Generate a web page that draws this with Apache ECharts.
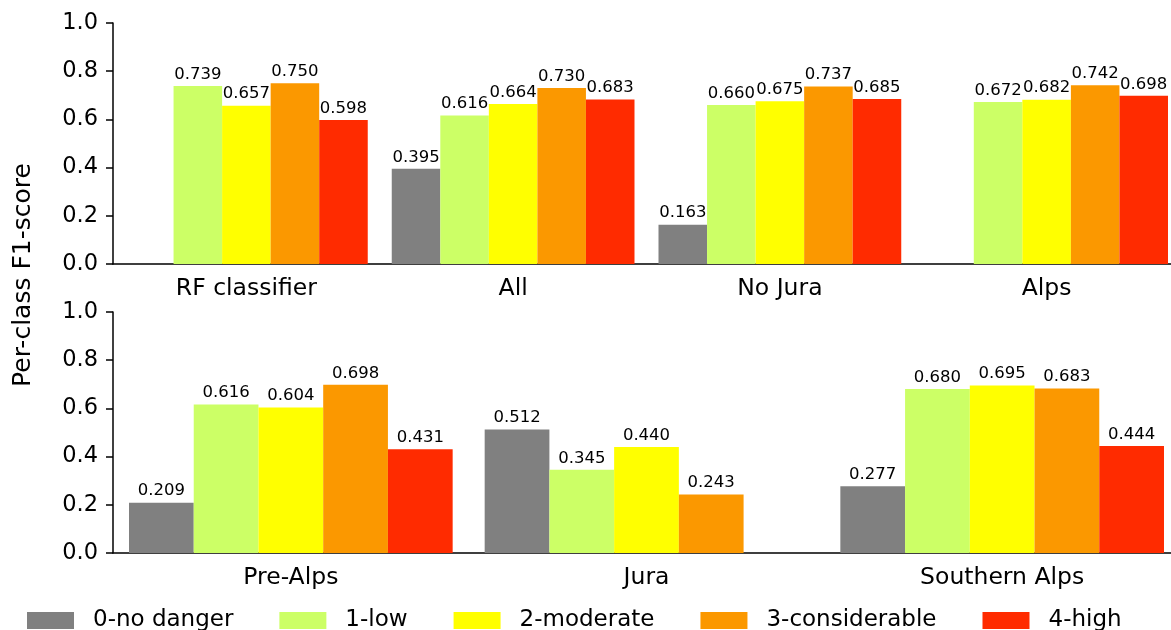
<!DOCTYPE html>
<html lang="en">
<head>
    <meta charset="UTF-8">
    <title>Per-class F1-score</title>
    <script src="https://cdn.jsdelivr.net/npm/echarts@6/dist/echarts.min.js"></script>
    <style>
        html, body { margin: 0; background: #fff; overflow: hidden; }
        /* the original figure is cropped on the right, so the canvas is a little wider than the window */
        #chart { width: 1180px; height: 630px; }
    </style>
</head>
<body>
<div id="chart"></div>
<script>
// class names / colours
const classNames = ['0-no danger', '1-low', '2-moderate', '3-considerable', '4-high'];
const classColors = ['#808080', '#ccff66', '#ffff00', '#fb9800', '#ff2b00'];

// top panel
const topCats = ['RF classifier', 'All', 'No Jura', 'Alps'];
const top0 = [null, 0.395, 0.163, null];
const top1 = [0.739, 0.616, 0.660, 0.672];
const top2 = [0.657, 0.664, 0.675, 0.682];
const top3 = [0.750, 0.730, 0.737, 0.742];
const top4 = [0.598, 0.683, 0.685, 0.698];

// bottom panel
const botCats = ['Pre-Alps', 'Jura', 'Southern Alps'];
const bot0 = [0.209, 0.512, 0.277];
const bot1 = [0.616, 0.345, 0.680];
const bot2 = [0.604, 0.440, 0.695];
const bot3 = [0.698, 0.243, 0.683];
const bot4 = [0.431, null, 0.444];

const yTicks = [0, 0.2, 0.4, 0.6, 0.8, 1.0];

const font = 'DejaVu Sans';
const axisColor = '#000';

function xAxisFor(idx, cats) {
    return {
        type: 'category', gridIndex: idx, data: cats,
        axisLine: { lineStyle: { color: axisColor, width: 1.5 } },
        axisTick: { alignWithLabel: true, length: 6, lineStyle: { color: axisColor, width: 1.5 } },
        axisLabel: { color: '#000', fontSize: 23.5, fontFamily: font, margin: 13 }
    };
}

function yAxisFor(idx) {
    return {
        type: 'value', gridIndex: idx, min: yTicks[0], max: yTicks[yTicks.length - 1], interval: 0.2,
        axisLine: { show: true, lineStyle: { color: axisColor, width: 1.5 } },
        axisTick: { show: true, length: 7, lineStyle: { color: axisColor, width: 1.5 } },
        splitLine: { show: false },
        axisLabel: { color: '#000', fontSize: 22.5, fontFamily: font, margin: 15,
            formatter: v => v.toFixed(1) }
    };
}

function barSeries(name, color, data, idx) {
    return {
        name: name, type: 'bar', data: data,
        xAxisIndex: idx, yAxisIndex: idx,
        barGap: '0%', barCategoryGap: '9%',
        itemStyle: { color: color },
        label: {
            show: true, position: 'top', distance: 3,
            color: '#000', fontSize: 16.5, fontFamily: font,
            formatter: p => p.value == null ? '' : p.value.toFixed(3)
        }
    };
}

const topData = [top0, top1, top2, top3, top4];
const botData = [bot0, bot1, bot2, bot3, bot4];
const series = [];
classNames.forEach((n, i) => series.push(barSeries(n, classColors[i], topData[i], 0)));
classNames.forEach((n, i) => series.push(barSeries(n, classColors[i], botData[i], 1)));

const chart = echarts.init(document.getElementById('chart'));
chart.setOption({
    animation: false,
    textStyle: { fontFamily: font },
    grid: [
        { left: 113, right: 0, top: 23, height: 241 },
        { left: 113, right: 0, top: 312, height: 241 }
    ],
    xAxis: [xAxisFor(0, topCats), xAxisFor(1, botCats)],
    yAxis: [yAxisFor(0), yAxisFor(1)],
    legend: {
        data: classNames,
        left: 27, top: 609, padding: 0,
        icon: 'rect', itemWidth: 47, itemHeight: 17, itemGap: 46,
        textStyle: { color: '#000', fontSize: 23, fontFamily: font, padding: [0, 0, 0, 14] }
    },
    graphic: [{
        type: 'text', x: 23, y: 275, rotation: Math.PI / 2,
        style: { text: 'Per-class F1-score', fontSize: 25, fontFamily: font, fill: '#000',
            align: 'center', verticalAlign: 'middle' }
    }],
    series: series
});
</script>
</body>
</html>
